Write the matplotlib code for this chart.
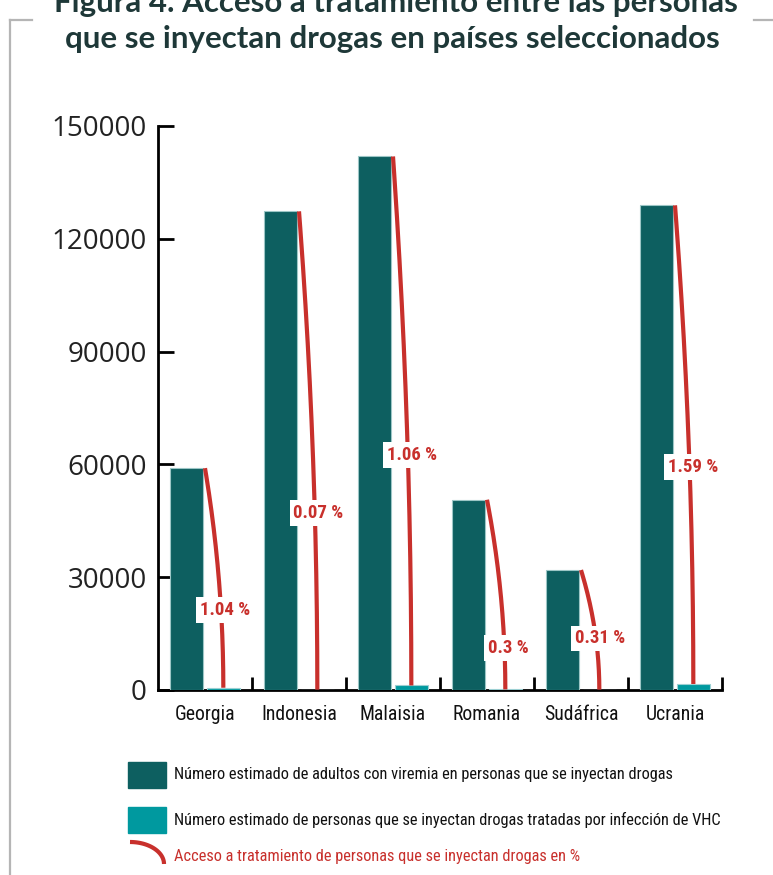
import matplotlib
matplotlib.use("Agg")
import matplotlib.pyplot as plt
from matplotlib import font_manager
from matplotlib.lines import Line2D
from matplotlib.patches import Rectangle
import numpy as np

# ---------------- data ----------------
countries = ["Georgia", "Indonesia", "Malaisia", "Romania", "Sudáfrica", "Ucrania"]
viremic = [59000, 127300, 141900, 50600, 31900, 128900]
treated = [600, 90, 1200, 150, 100, 1600]
access_labels = ["1.04 %", "0.07 %", "1.06 %", "0.3 %", "0.31 %", "1.59 %"]
yticks = [0, 30000, 60000, 90000, 120000, 150000]
legend_labels = [
    "Número estimado de adultos con viremia en personas que se inyectan drogas",
    "Número estimado de personas que se inyectan drogas tratadas por infección de VHC",
    "Acceso a tratamiento de personas que se inyectan drogas en %",
]
title_lines = ["Figura 4. Acceso a tratamiento entre las personas",
               "que se inyectan drogas en países seleccionados"]

# ---------------- layout / style ----------------
label_frac = [0.36, 0.37, 0.44, 0.22, 0.43, 0.46]
DARK = "#0d5f60"
LIGHT = "#00999f"
RED = "#c8302c"
TITLE_C = "#1e3838"

names = {f.name for f in font_manager.fontManager.ttflist}
cond = None
for cand in ["Liberation Sans Narrow", "Roboto Condensed", "DejaVu Sans Condensed",
             "Open Sans Condensed", "Noto Sans Condensed"]:
    if cand in names:
        cond = cand
        break
cond_kw = {"family": cond} if cond else {"family": "DejaVu Sans", "stretch": "condensed"}

W, H = 773, 875
fig = plt.figure(figsize=(W / 100, H / 100), dpi=100)

def fx(px):
    return px / W

def fy(py):
    return 1 - py / H

ax = fig.add_axes([fx(158), fy(690), fx(722) - fx(158), fy(126) - fy(690)])

x = np.arange(len(countries))
bw = 0.35
off = 0.195
ax.bar(x - off, viremic, width=bw, color=DARK, edgecolor="#9cc6c6", linewidth=0.8, zorder=3)
ax.bar(x + off, treated, width=bw, color=LIGHT, edgecolor="#9cd0d3", linewidth=0.8, zorder=3)

# red arcs
for i in range(len(countries)):
    x0 = x[i] - off + bw / 2 + 0.02
    x1 = x[i] + off
    v0 = viremic[i]
    v1 = treated[i]
    t = np.linspace(0, 1, 200)
    vv = v1 + (v0 - v1) * t
    xx = x1 - (x1 - x0) * t ** 2
    ax.plot(xx, vv, color=RED, lw=3.0, solid_capstyle="butt", zorder=4)
    f = label_frac[i]
    vl = v0 * f
    tl = (vl - v1) / (v0 - v1)
    xl = x1 - (x1 - x0) * tl ** 2
    ax.text(xl + 0.04, vl, access_labels[i], color=RED, fontsize=13.5, fontweight="bold",
            ha="center", va="center", zorder=5,
            bbox=dict(boxstyle="square,pad=0.2", fc="white", ec="none"), **cond_kw)

ax.set_xlim(-0.5, len(countries) - 0.5)
ax.set_ylim(0, 150000)
ax.set_yticks(yticks)
ax.set_yticklabels([str(v) for v in yticks], fontsize=20, family="Open Sans", color="#222222")
ax.set_xticks(np.arange(len(countries)) + 0.5)
ax.set_xticklabels([])
ax.set_xticks(x, minor=True)
ax.set_xticklabels(countries, minor=True, fontsize=14.2, color="#111111", **cond_kw)
ax.tick_params(axis="y", direction="in", length=11.5, width=2, pad=8)
ax.tick_params(axis="x", which="major", direction="in", length=9.5, width=2)
ax.tick_params(axis="x", which="minor", length=0, pad=11)
for s in ["top", "right"]:
    ax.spines[s].set_visible(False)
for s in ["left", "bottom"]:
    ax.spines[s].set_linewidth(2)
    ax.spines[s].set_color("black")

# title
fig.text(fx(396), fy(12), title_lines[0], ha="center", va="baseline", fontsize=22.5,
         fontweight="bold", family="Lato", color=TITLE_C)
fig.text(fx(392), fy(48), title_lines[1], ha="center", va="baseline", fontsize=22.5,
         fontweight="bold", family="Lato", color=TITLE_C)

# frame
fc = "#b5b5b5"
fig.add_artist(Line2D([fx(10), fx(10)], [fy(20), fy(875)], color=fc, lw=1.6))
fig.add_artist(Line2D([fx(10), fx(32)], [fy(20), fy(20)], color=fc, lw=1.6))
fig.add_artist(Line2D([fx(754), fx(773)], [fy(20), fy(20)], color=fc, lw=1.6))

# legend
fig.add_artist(Rectangle((fx(128), fy(788)), fx(166) - fx(128), fy(762) - fy(788),
                         transform=fig.transFigure, color=DARK))
fig.add_artist(Rectangle((fx(128), fy(833)), fx(166) - fx(128), fy(807) - fy(833),
                         transform=fig.transFigure, color=LIGHT))
th = np.linspace(np.pi / 2, 0, 60)
ax_px = 130 + 34 * np.cos(th)
ay_px = 864 - 22 * np.sin(th)
fig.add_artist(Line2D(fx(ax_px), fy(ay_px), color=RED, lw=3.0, solid_capstyle="butt"))
fig.text(fx(174), fy(775), legend_labels[0], ha="left", va="center", fontsize=11.8,
         color="#111111", **cond_kw)
fig.text(fx(174), fy(820), legend_labels[1], ha="left", va="center", fontsize=11.8,
         color="#111111", **cond_kw)
fig.text(fx(174), fy(856), legend_labels[2], ha="left", va="center", fontsize=11.8,
         color=RED, **cond_kw)

fig.savefig("out.png", dpi=100)
